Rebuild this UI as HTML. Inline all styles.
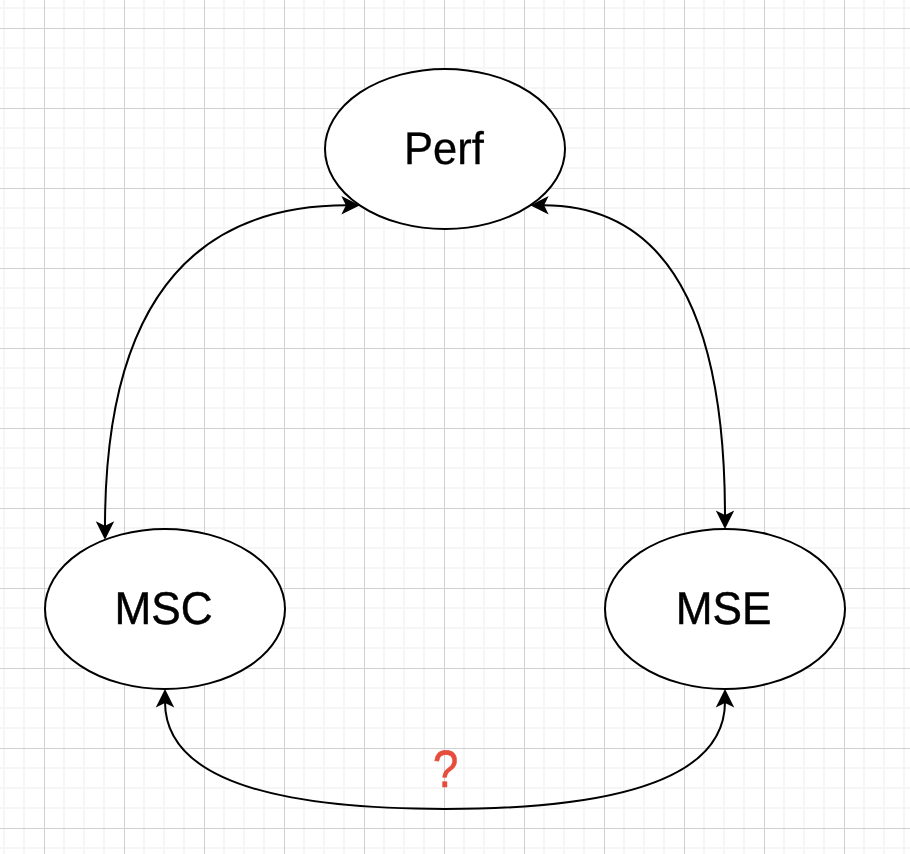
<!DOCTYPE html>
<html><head><meta charset="utf-8"><title>Diagram</title>
<style>
html,body{margin:0;padding:0;background:#fff;}
body{width:910px;height:854px;overflow:hidden;}
svg{display:block;will-change:transform;}
text{text-rendering:geometricPrecision;}
text{font-family:"Liberation Sans",sans-serif;}
</style></head><body>
<svg width="910" height="854" viewBox="0 0 910 854">
<rect width="910" height="854" fill="#fff"/>
<path d="M4 0V854M24 0V854M64 0V854M84 0V854M104 0V854M144 0V854M164 0V854M184 0V854M224 0V854M244 0V854M264 0V854M304 0V854M324 0V854M344 0V854M384 0V854M404 0V854M424 0V854M464 0V854M484 0V854M504 0V854M544 0V854M564 0V854M584 0V854M624 0V854M644 0V854M664 0V854M704 0V854M724 0V854M744 0V854M784 0V854M804 0V854M824 0V854M864 0V854M884 0V854M904 0V854M0 8H910M0 48H910M0 68H910M0 88H910M0 128H910M0 148H910M0 168H910M0 208H910M0 228H910M0 248H910M0 288H910M0 308H910M0 328H910M0 368H910M0 388H910M0 408H910M0 448H910M0 468H910M0 488H910M0 528H910M0 548H910M0 568H910M0 608H910M0 628H910M0 648H910M0 688H910M0 708H910M0 728H910M0 768H910M0 788H910M0 808H910M0 848H910" stroke="#f6f6f6" stroke-width="2" fill="none"/>
<path d="M44.5 0V854M124.5 0V854M204.5 0V854M284.5 0V854M364.5 0V854M444.5 0V854M524.5 0V854M604.5 0V854M684.5 0V854M764.5 0V854M844.5 0V854M0 28.5H910M0 108.5H910M0 188.5H910M0 268.5H910M0 348.5H910M0 428.5H910M0 508.5H910M0 588.5H910M0 668.5H910M0 748.5H910M0 828.5H910" stroke="#d0d0d0" stroke-width="1" fill="none"/>
<ellipse cx="445" cy="149" rx="120" ry="80" fill="#fff" stroke="#000" stroke-width="2"/>
<ellipse cx="165" cy="609" rx="120" ry="80" fill="#fff" stroke="#000" stroke-width="2"/>
<ellipse cx="725" cy="609" rx="120" ry="80" fill="#fff" stroke="#000" stroke-width="2"/>
<path d="M347.06 205.3Q105 205.3 105 526.98" fill="none" stroke="#000" stroke-width="2" stroke-miterlimit="10"/>
<path d="M357.56 205.3L343.56 212.3L347.06 205.3L343.56 198.3ZM105 537.48L98 523.48L105 526.98L112 523.48Z" fill="#000" stroke="#000" stroke-width="2" stroke-miterlimit="10"/>
<path d="M542.94 205.3Q725 205.3 725 516.26" fill="none" stroke="#000" stroke-width="2" stroke-miterlimit="10"/>
<path d="M532.44 205.3L546.44 198.3L542.94 205.3L546.44 212.3ZM725 526.76L718 512.76L725 516.26L732 512.76Z" fill="#000" stroke="#000" stroke-width="2" stroke-miterlimit="10"/>
<path d="M165 701.74Q165 809 445 809Q725 809 725 701.74" fill="none" stroke="#000" stroke-width="2" stroke-miterlimit="10"/>
<path d="M165 691.24L172 705.24L165 701.74L158 705.24ZM725 691.24L732 705.24L725 701.74L718 705.24Z" fill="#000" stroke="#000" stroke-width="2" stroke-miterlimit="10"/>
<text transform="translate(443.85 163.5) scale(0.988 1.04)" font-size="44" text-anchor="middle" fill="#000" stroke="#000" stroke-width="0.3">Perf</text>
<text transform="translate(163.5 623.6) scale(1.004 1.043)" font-size="44" text-anchor="middle" fill="#000" stroke="#000" stroke-width="0.45">MSC</text>
<text transform="translate(723.5 623.6) scale(1.004 1.043)" font-size="44" text-anchor="middle" fill="#000" stroke="#000" stroke-width="0.45">MSE</text>
<text transform="translate(445.65 787) scale(0.885 1.012)" font-size="52" text-anchor="middle" fill="#e74c3c" stroke="#e74c3c" stroke-width="0.5">?</text>
</svg>
</body></html>
